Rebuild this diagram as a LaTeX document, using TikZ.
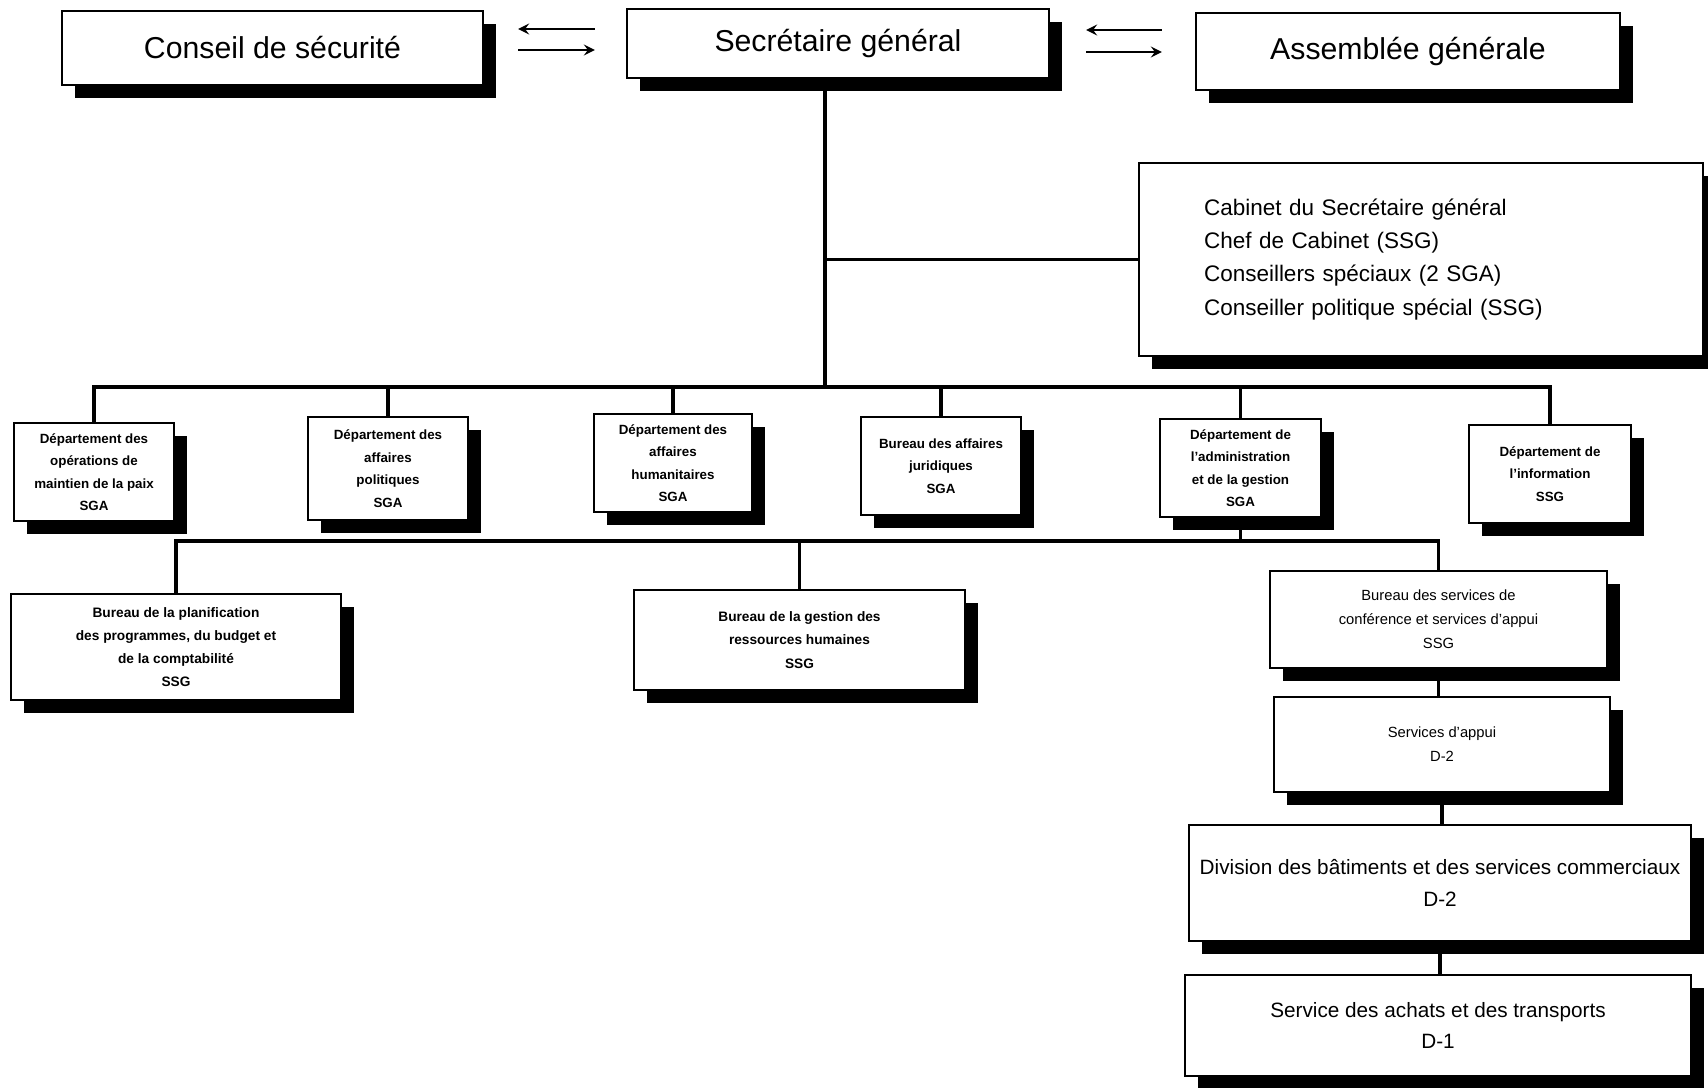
\documentclass[tikz,border=0pt]{standalone}
\usepackage{fontspec}
\setmainfont{Liberation Sans}
\usetikzlibrary{shadows}
\begin{document}
\begin{tikzpicture}[>=stealth,
    box/.style={draw, fill=white, line width=.6pt, align=center, inner sep=0pt,
        drop shadow={shadow xshift=.13cm, shadow yshift=-.13cm, fill=black, opacity=1}},
    big/.style={box, font=\fontsize{8.6}{10}\selectfont},
    dept/.style={box, minimum width=1.6cm, minimum height=.98cm, font=\fontsize{3.8}{6.4}\selectfont\bfseries},
    bureau/.style={box, font=\fontsize{3.9}{6.6}\selectfont\bfseries},
    service/.style={box, font=\fontsize{4.2}{6.8}\selectfont},
    division/.style={box, font=\fontsize{5.9}{9}\selectfont},
    link/.style={line width=.9pt}]
\useasboundingbox (0,0) rectangle (17.08,-10.88);
% organes principaux
\node[big, minimum width=4.21cm, minimum height=.74cm] (cs) at (2.725,-.48) {Conseil de sécurité};
\node[big, minimum width=4.22cm, minimum height=.69cm] (sg) at (8.38,-.435) {Secrétaire général};
\node[big, minimum width=4.24cm, minimum height=.77cm] (ag) at (14.08,-.515) {Assemblée générale};
\draw[<-, shorten <=3.4mm, shorten >=3.1mm](cs.east |- 0,-.29)--(sg.west |- 0,-.29);
\draw[->, shorten <=3.4mm, shorten >=3.1mm](cs.east |- 0,-.50)--(sg.west |- 0,-.50);
\draw[<-, shorten <=3.6mm, shorten >=3.3mm](sg.east |- 0,-.30)--(ag.west |- 0,-.30);
\draw[->, shorten <=3.6mm, shorten >=3.3mm](sg.east |- 0,-.52)--(ag.west |- 0,-.52);
% cabinet
\node[box, minimum width=5.64cm, minimum height=1.93cm, inner xsep=.65cm, text width=4.34cm,
    align=left, font=\fontsize{6.4}{9.4}\selectfont] (cab) at (14.21,-2.595)
    {Cabinet du Secrétaire général\\Chef de Cabinet (SSG)\\Conseillers spéciaux (2 SGA)\\Conseiller politique spécial (SSG)};
% departements
\node[dept] (d1) at (.94,-4.72) {Département des\\opérations de\\maintien de la paix\\SGA};
\node[dept, minimum height=1.03cm] (d2) at (3.88,-4.685) {Département des\\affaires\\politiques\\SGA};
\node[dept, minimum width=1.58cm] (d3) at (6.73,-4.63) {Département des\\affaires\\humanitaires\\SGA};
\node[dept] (d4) at (9.41,-4.66) {Bureau des affaires\\juridiques\\SGA};
\node[dept, minimum width=1.61cm] (d5) at (12.405,-4.68) {Département de\\l'administration\\et de la gestion\\SGA};
\node[dept, minimum width=1.62cm] (d6) at (15.50,-4.74) {Département de\\l'information\\SSG};
% bureaux
\node[bureau, minimum width=3.30cm, minimum height=1.06cm] (b1) at (1.76,-6.47)
    {Bureau de la planification\\des programmes, du budget et\\de la comptabilité\\SSG};
\node[bureau, minimum width=3.31cm, minimum height=1cm] (b2) at (7.995,-6.40)
    {Bureau de la gestion des\\ressources humaines\\SSG};
\node[service, minimum width=3.37cm, minimum height=.97cm] (b3) at (14.385,-6.195)
    {Bureau des services de\\conférence et services d'appui\\SSG};
\node[service, minimum width=3.36cm, minimum height=.95cm] (sa) at (14.42,-7.445) {Services d'appui\\D-2};
\node[division, minimum width=5.02cm, minimum height=1.16cm] (div) at (14.40,-8.83)
    {Division des bâtiments et des services commerciaux\\D-2};
\node[division, minimum width=5.06cm, minimum height=1.01cm] (ach) at (14.38,-10.255)
    {Service des achats et des transports\\D-1};
% liaisons
\coordinate (tronc) at (8.25,-3.87);
\coordinate (bus) at (0,-5.41);
\draw[link](tronc |- sg.south)--(tronc);
\draw[link](tronc |- cab.west)--(cab.west);
\draw[link](d1.north)|-(d6.north |- tronc)--(d6.north);
\foreach \d in {d2,d3,d4,d5}
    \draw[link](\d.north)--(\d.north |- tronc);
\draw[link](d5.south)--(d5.south |- bus);
\draw[link](b1.north)|-(b3.north |- bus)--(b3.north);
\draw[link](b2.north)--(b2.north |- bus);
\draw[link](b3.south)--(b3.south |- sa.north);
\draw[link](sa.south)--(sa.south |- div.north);
\draw[link](div.south)--(div.south |- ach.north);
\end{tikzpicture}
\end{document}
